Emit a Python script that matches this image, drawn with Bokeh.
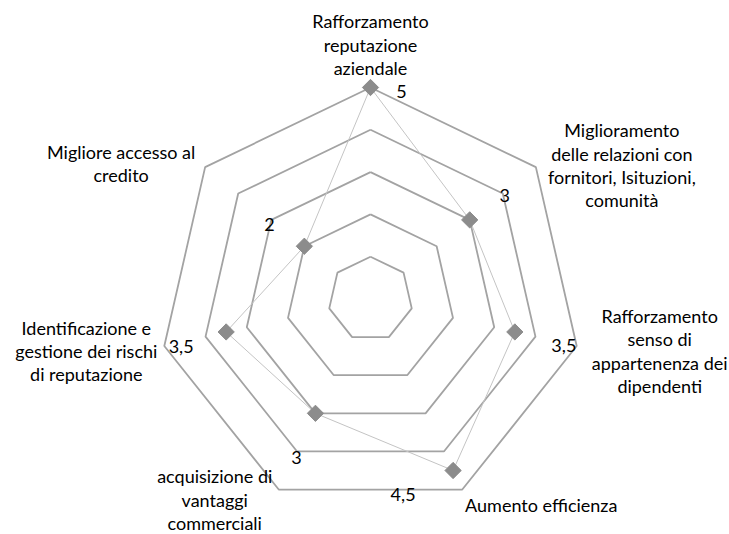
import numpy as np
from bokeh.plotting import figure
from bokeh.models import Range1d, ColumnDataSource
from bokeh.embed import file_html
from bokeh.resources import INLINE
from bokeh.core.properties import value

# ---- data ----
categories = [
    "Rafforzamento\nreputazione\naziendale",
    "Miglioramento\ndelle relazioni con\nfornitori, Isituzioni,\ncomunità",
    "Rafforzamento\nsenso di\nappartenenza dei\ndipendenti",
    "Aumento efficienza",
    "acquisizione di\nvantaggi\ncommerciali",
    "Identificazione e\ngestione dei rischi\ndi reputazione",
    "Migliore accesso al\ncredito",
]
values = [5, 3, 3.5, 4.5, 3, 3.5, 2]
value_labels = ["5", "3", "3,5", "4,5", "3", "3,5", "2"]
ring_levels = [1, 2, 3, 4, 5]

# ---- layout / style ----
W, H = 729, 534
CX, CY = 370.0, 298.5   # centre in plot pixels
U = 42.3                # pixels per unit
FONT = "Lato"
FS = "18px"
LINE_H = 23.2

# pixel offsets of category label blocks relative to outer vertex
cat_off = [(0, -43), (86, -2), (83, 5), (79, 15), (-64, 10), (-78, 5), (-84, -4)]
# pixel offsets of data labels relative to markers
val_off = [(31, 4), (35, -24), (49, 14), (-50, 24), (-19, 44), (-45, 15), (-35, -22)]

n = len(categories)
ang = np.pi / 2 - 2 * np.pi * np.arange(n) / n
ca, sa = np.cos(ang), np.sin(ang)

p = figure(width=W, height=H,
           x_range=Range1d(-CX / U, (W - CX) / U),
           y_range=Range1d(-(H - CY) / U, CY / U),
           output_backend="svg", toolbar_location=None,
           x_axis_location=None, y_axis_location=None, min_border=0)
p.grid.visible = False
p.outline_line_color = None
p.background_fill_color = "white"
p.border_fill_color = "white"

# rings
xs = [list(lv * np.append(ca, ca[0])) for lv in ring_levels]
ys = [list(lv * np.append(sa, sa[0])) for lv in ring_levels]
p.multi_line(xs, ys, line_color="#a3a3a3", line_width=1.8)

# data series
v = np.array(values, dtype=float)
px, py = v * ca, v * sa
p.line(list(np.append(px, px[0])), list(np.append(py, py[0])),
       line_color="#c4c4c4", line_width=1)
p.scatter(px, py, marker="square", angle=np.pi / 4, size=11.5,
          fill_color="#8c8c8c", line_color="#8c8c8c")

# data labels
src_v = ColumnDataSource(dict(x=px, y=py, t=value_labels,
                              xo=[o[0] for o in val_off], yo=[o[1] for o in val_off]))
p.text("x", "y", text="t", x_offset="xo", y_offset="yo", source=src_v,
       text_align="center", text_baseline="middle",
       text_font=value(FONT), text_font_size=FS, text_color="black")

# category labels, one glyph per line
lx, ly, lt, lxo, lyo = [], [], [], [], []
R = max(ring_levels)
for i, cat in enumerate(categories):
    lines = cat.split("\n")
    m = len(lines)
    for k, ln in enumerate(lines):
        lx.append(R * ca[i])
        ly.append(R * sa[i])
        lt.append(ln)
        lxo.append(cat_off[i][0])
        lyo.append(cat_off[i][1] + (k - (m - 1) / 2) * LINE_H)
src_c = ColumnDataSource(dict(x=lx, y=ly, t=lt, xo=lxo, yo=lyo))
p.text("x", "y", text="t", x_offset="xo", y_offset="yo", source=src_c,
       text_align="center", text_baseline="middle",
       text_font=value(FONT), text_font_size=FS, text_color="black")

open("out.html", "w").write(file_html(p, INLINE))
